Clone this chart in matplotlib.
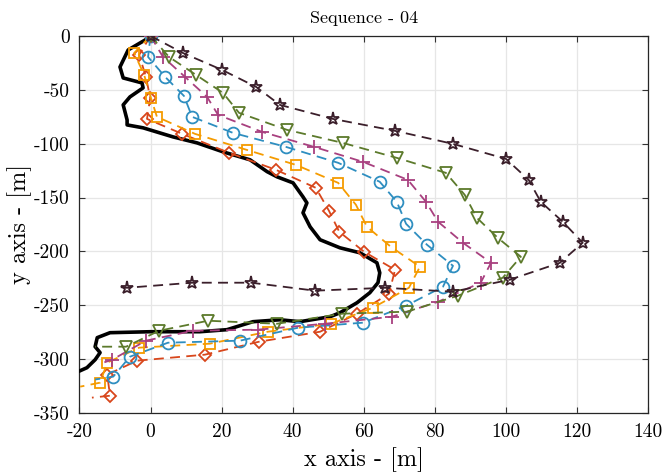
import numpy as np
import matplotlib
matplotlib.use('Agg')
import matplotlib.pyplot as plt

plt.rcParams['font.family'] = 'serif'
plt.rcParams['font.serif'] = ['cmr10']
plt.rcParams['mathtext.fontset'] = 'cm'
plt.rcParams['axes.unicode_minus'] = False

# ground truth trajectory
gt_x = [0, -1.5, -6.3, -8.6, -7.7, -2.4, -2.1, -5.8, -7.7, -6.6, -6.6, -2.1, 6.3, 13.1,
        20.4, 28.0, 32.8, 35.6, 40.1, 42.9, 44.0, 42.9, 44.9, 47.7, 53.3, 58.9, 63.7,
        64.5, 64.0, 61.7, 58.1, 53.3, 50.5, 42.0, 36.4, 28.8, 21.5, 13.9, 0.0, -11.4,
        -15.0, -15.6, -14.2, -15.6, -17.9, -19.8]
gt_y = [0, -3.7, -13.0, -28.8, -39.0, -43.6, -48.2, -56.6, -64.0, -78.0, -82.6, -85.3,
        -93.7, -99.3, -107.6, -115.0, -126.0, -130.8, -136.4, -149.4, -155.0, -164.2,
        -177.2, -189.2, -196.7, -201.3, -210.6, -219.9, -229.1, -238.4, -247.7, -257.0,
        -260.7, -265.3, -263.5, -265.3, -272.7, -274.6, -274.6, -275.5, -280.1, -288.5,
        -294.0, -300.6, -308.0, -310.8]

# estimated trajectories (last point of each line carries no marker)
dia_x = [0, -3.2, -1.3, -0.1, -1.0, 8.9, 22.1, 35.3, 46.5, 50.2, 53.1, 60.1, 68.8, 67.1,
         58.1, 47.7, 30.5, 15.3, -3.8, -12.2, -11.4, -16.5]
dia_y = [0, -17.6, -38.0, -57.5, -77.0, -90.9, -108.5, -124.3, -141.0, -162.3, -181.8,
         -200.4, -217.1, -239.3, -257.9, -274.6, -283.9, -295.9, -301.5, -314.5, -334.0, -335.8]

sq_x = [0, -4.6, -1.8, 0.1, 1.8, 12.5, 27.1, 40.9, 52.8, 57.8, 60.9, 67.6, 75.8, 72.7,
        62.6, 50.8, 33.0, 16.7, -3.2, -12.2, -14.2, -19.8]
sq_y = [0, -15.8, -36.2, -57.5, -75.1, -90.9, -105.8, -119.7, -136.4, -156.8, -177.2,
        -195.7, -214.3, -233.8, -252.3, -267.2, -274.6, -285.7, -289.4, -303.3, -321.9, -325.6]

circ_x = [0, -0.7, 4.1, 9.4, 11.7, 23.2, 38.1, 52.8, 64.5, 69.3, 71.9, 77.8, 85.1, 82.3,
          71.9, 59.8, 41.5, 25.2, 4.9, -5.8, -10.5, -15.6]
circ_y = [0, -19.5, -38.0, -55.7, -75.1, -90.0, -103.0, -117.8, -135.4, -154.0, -174.4,
          -193.9, -213.4, -232.8, -250.5, -266.2, -270.9, -282.9, -284.8, -297.8, -316.3, -319.0]

plus_x = [0, 3.5, 9.7, 15.9, 19.0, 31.4, 46.0, 59.8, 72.4, 77.5, 80.9, 87.9, 95.8, 92.9,
          80.9, 67.9, 49.1, 30.2, 12.0, -1.3, -10.8, -13.0]
plus_y = [0, -19.5, -38.0, -56.6, -73.3, -89.1, -103.0, -116.9, -133.6, -154.0, -172.5,
          -192.0, -210.6, -229.1, -246.8, -260.7, -267.2, -272.7, -273.7, -282.9, -300.6, -303.0]

tri_x = [0, 5.2, 12.8, 20.4, 24.9, 38.4, 54.1, 69.3, 83.1, 88.4, 91.8, 97.7, 104.2, 99.1,
         86.5, 72.1, 53.9, 35.6, 16.2, 2.4, -6.9, -15.6]
tri_y = [0, -19.5, -36.2, -52.9, -71.4, -87.2, -99.3, -113.2, -127.1, -147.5, -168.8,
         -187.4, -205.0, -224.5, -241.2, -256.0, -257.9, -267.2, -264.4, -273.7, -288.5, -288.5]

star_x = [0, 9.1, 20.1, 29.7, 36.4, 51.3, 68.8, 85.1, 100.0, 106.4, 109.8, 116.0, 121.6,
          115.2, 101.1, 85.1, 66.0, 46.3, 28.3, 11.7, -6.6, -10.0]
star_y = [0, -15.8, -31.5, -47.3, -64.0, -77.0, -88.1, -100.2, -114.1, -133.6, -154.0,
          -172.5, -192.0, -210.6, -226.3, -237.5, -233.8, -236.5, -229.1, -229.1, -233.8, -232.8]

series = [
    (dia_x, dia_y, 'D', '#D8461B', 6.5),
    (sq_x, sq_y, 's', '#F59B00', 7),
    (circ_x, circ_y, 'o', '#2E8EC0', 8.5),
    (plus_x, plus_y, '+', '#A8407F', 9.5),
    (tri_x, tri_y, 'v', '#5C7A2B', 8.5),
    (star_x, star_y, '*', '#3B1F2B', 9.5),
]

fig = plt.figure(figsize=(6.64, 4.73), dpi=100)
ax = fig.add_axes([0.1197, 0.127, 0.8563, 0.797])

ax.plot(gt_x, gt_y, color='k', lw=2.6, zorder=3)
for sx, sy, mk, col, ms in series:
    ax.plot(sx, sy, ls=(0, (5.5, 3.5)), color=col, lw=1.3, marker=mk, ms=ms,
            mfc='none', mec=col, mew=1.3, markevery=slice(0, len(sx) - 1), zorder=4)

ax.set_xlim(-20, 140)
ax.set_ylim(-350, 0)
ax.set_xticks(np.arange(-20, 141, 20))
ax.set_yticks(np.arange(-350, 1, 50))
ax.grid(True, color='#e6e6e6', lw=0.9)
ax.set_axisbelow(True)
ax.tick_params(direction='in', top=True, right=True, length=4, labelsize=14,
               color='#333333', pad=7)
for sp in ax.spines.values():
    sp.set_color('#262626')
    sp.set_linewidth(0.9)

ax.set_title('Sequence - 04', fontsize=13, pad=9)
ax.set_xlabel('x axis - [m]', fontsize=17.5, labelpad=5)
ax.set_ylabel('y axis - [m]', fontsize=17.5, labelpad=1)

fig.savefig('out.png', dpi=100)
